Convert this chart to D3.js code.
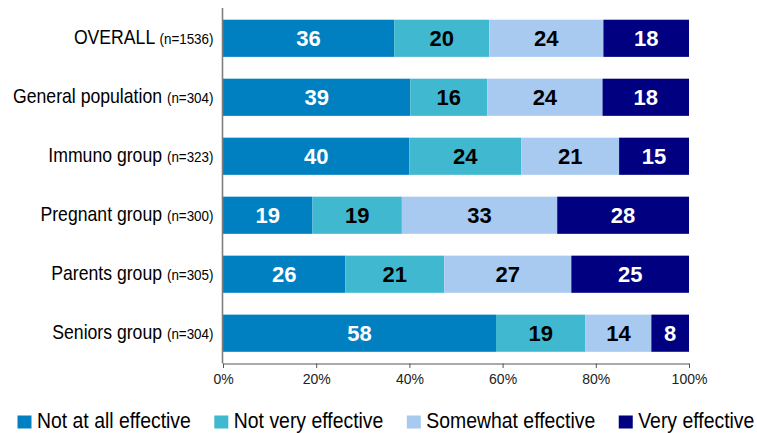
<!DOCTYPE html>
<html>
<head>
<meta charset="utf-8">
<script src="https://cdn.jsdelivr.net/npm/d3@7"></script>
<style>
  html, body { margin: 0; padding: 0; background: #fff; }
  svg { display: block; font-family: "Liberation Sans", Arial, sans-serif; }
</style>
</head>
<body>
<svg id="chart" width="757" height="433"></svg>
<script>
// Perceived effectiveness by respondent group (percent of each group)
const categories  = ["OVERALL", "General population", "Immuno group", "Pregnant group", "Parents group", "Seniors group"];
const sampleSizes = [1536, 304, 323, 300, 305, 304];

const seriesNames = ["Not at all effective", "Not very effective", "Somewhat effective", "Very effective"];
const notAtAll    = [36, 39, 40, 19, 26, 58];
const notVery     = [20, 16, 24, 19, 21, 19];
const somewhat    = [24, 24, 21, 33, 27, 14];
const very        = [18, 18, 15, 28, 25, 8];

const tickValues = [0, 0.2, 0.4, 0.6, 0.8, 1];

const seriesColors = ["#0080c0", "#40b8d0", "#a8caf0", "#000080"];
const labelColors  = ["#ffffff", "#000000", "#000000", "#ffffff"];

const seriesValues = [notAtAll, notVery, somewhat, very];
const rows = categories.map((c, i) => {
  const r = { category: c, n: sampleSizes[i] };
  seriesNames.forEach((s, k) => { r[s] = seriesValues[k][i]; });
  return r;
});

const svg = d3.select("#chart");
const squeeze = 0.882;   // narrow text face

const x = d3.scaleLinear().domain([0, 1]).range([223, 689]);
const y = d3.scaleBand().domain(categories).range([8.5, 363]).paddingInner(0.37).paddingOuter(0.19);

// each row is stacked to a full 100% width
const stacked = d3.stack().keys(seriesNames).offset(d3.stackOffsetExpand)(rows);

const layers = svg.append("g").selectAll("g")
  .data(stacked)
  .join("g")
  .attr("fill", (d, i) => seriesColors[i]);

layers.selectAll("rect")
  .data(d => d.map(p => ({ p, key: d.key })))
  .join("rect")
  .attr("x", d => x(d.p[0]))
  .attr("y", d => y(d.p.data.category))
  .attr("width", d => x(d.p[1]) - x(d.p[0]))
  .attr("height", y.bandwidth());

// value labels inside each segment
stacked.forEach((layer, i) => {
  svg.append("g").selectAll("text")
    .data(layer)
    .join("text")
    .attr("x", d => (x(d[0]) + x(d[1])) / 2)
    .attr("y", d => y(d.data.category) + y.bandwidth() / 2)
    .attr("dy", "0.36em")
    .attr("text-anchor", "middle")
    .attr("font-size", 22)
    .attr("font-weight", "bold")
    .attr("fill", labelColors[i])
    .text(d => d.data[layer.key]);
});

// category axis line
svg.append("line")
  .attr("x1", 222.5).attr("x2", 222.5)
  .attr("y1", 8).attr("y2", 363.5)
  .attr("stroke", "#7f7f7f").attr("stroke-width", 1.6);

// category labels with sample size
const catLabels = svg.append("g").selectAll("g")
  .data(rows)
  .join("g")
  .attr("transform", d => `translate(213.5,${y(d.category) + y.bandwidth() / 2}) scale(${squeeze},1)`);

const catText = catLabels.append("text")
  .attr("text-anchor", "end")
  .attr("dy", "0.36em")
  .attr("fill", "#000");
catText.append("tspan").attr("font-size", 20).text(d => d.category + " ");
catText.append("tspan").attr("font-size", 15.2).text(d => `(n=${d.n})`);

// percentage axis
const xAxis = svg.append("g")
  .attr("transform", "translate(0,363.5)")
  .call(d3.axisBottom(x).tickValues(tickValues).tickFormat(d3.format(".0%")).tickSize(4.5).tickSizeOuter(0));
xAxis.select(".domain").attr("stroke", "#555");
xAxis.selectAll(".tick line").attr("stroke", "#555");
xAxis.selectAll(".tick text")
  .attr("font-family", "Liberation Sans, Arial, sans-serif")
  .attr("font-size", 14)
  .attr("fill", "#222")
  .attr("y", 11);

// legend
const legend = svg.append("g");
let lx = 17.5;
seriesNames.forEach((name, i) => {
  legend.append("rect")
    .attr("x", lx).attr("y", 415.5)
    .attr("width", 14).attr("height", 13)
    .attr("fill", seriesColors[i]);
  const g = legend.append("g")
    .attr("transform", `translate(${lx + 19.5},428.3) scale(${squeeze},1)`);
  const t = g.append("text")
    .attr("font-size", 22)
    .attr("fill", "#000")
    .text(name);
  const w = t.node().getComputedTextLength() * squeeze;
  lx += 19.5 + w + 23.5;
});
</script>
</body>
</html>
